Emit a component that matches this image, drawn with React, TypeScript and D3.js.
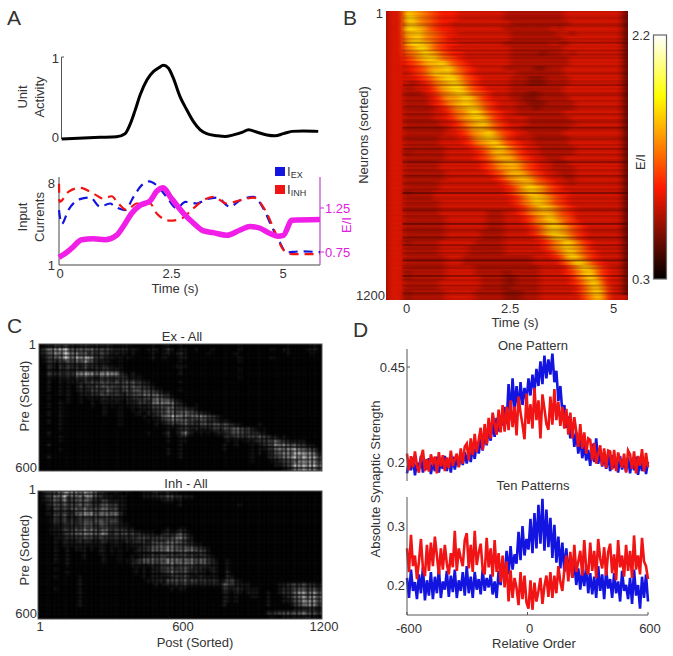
import React from 'react';
import * as d3 from 'd3';

// Panel A: unit activity, input currents and E/I over time
const activityT = [0.06, 0.55, 0.92, 1.29, 1.48, 1.59, 1.7, 1.82, 1.97, 2.12, 2.23, 2.34, 2.45, 2.56, 2.71, 2.86, 3.01, 3.16, 3.31, 3.54, 3.72, 3.91, 4.1, 4.25, 4.43, 4.66, 4.84, 5.03, 5.22, 5.48, 5.81];
const activityV = [0, 0.012, 0.02, 0.028, 0.065, 0.175, 0.34, 0.54, 0.72, 0.825, 0.865, 0.9, 0.865, 0.745, 0.52, 0.36, 0.215, 0.114, 0.065, 0.04, 0.03, 0.05, 0.08, 0.114, 0.085, 0.05, 0.04, 0.065, 0.093, 0.098, 0.093];
const exT = [0, 0.06, 0.21, 0.47, 0.7, 0.92, 1.14, 1.29, 1.48, 1.67, 1.85, 2.02, 2.19, 2.41, 2.64, 2.83, 3.09, 3.31, 3.54, 3.83, 4.06, 4.36, 4.58, 4.77, 4.96, 5.09, 5.4, 5.85];
const exV = [5.69, 4.5, 5.69, 6.62, 6.76, 5.97, 6.25, 5.91, 5.69, 6.82, 7.8, 8.14, 7.8, 6.82, 5.83, 6.39, 6.25, 6.62, 6.76, 5.97, 6.53, 6.82, 5.83, 4.27, 2.86, 2.07, 2.16, 2.1];
const inhT = [0, 0.01, 0.21, 0.47, 0.77, 0.99, 1.18, 1.33, 1.52, 1.74, 2.04, 2.19, 2.49, 2.75, 3.01, 3.24, 3.46, 3.76, 4.06, 4.36, 4.62, 4.84, 5.03, 5.22, 5.85];
const inhV = [7.94, 6.39, 7.24, 7.58, 7.1, 6.67, 6.87, 6.25, 5.69, 6.25, 6.25, 5.4, 4.78, 4.98, 5.83, 6.53, 6.82, 6.25, 6.53, 6.76, 5.69, 3.85, 2.3, 1.93, 1.93];
const eiT = [0, 0.13, 0.28, 0.51, 0.77, 1.03, 1.29, 1.44, 1.63, 1.82, 2.04, 2.19, 2.34, 2.49, 2.79, 3.01, 3.24, 3.46, 3.76, 4.06, 4.28, 4.51, 4.73, 4.9, 5.03, 5.22, 5.85];
const eiV = [0.69, 0.73, 0.79, 0.89, 0.9, 0.89, 0.94, 1.04, 1.19, 1.28, 1.33, 1.44, 1.48, 1.38, 1.19, 1.08, 0.99, 0.97, 0.94, 1.0, 1.04, 1.02, 0.96, 0.93, 0.94, 1.11, 1.12];

// Panel B: E/I per neuron (rows) and time bin (columns), one hex digit per cell
const heatRows = [
  '333a987654443333333322222222223333333333',
  '333aa87654443333333322222222223333333333',
  '3339a87654433333333332222222222333333333',
  '333aa98654433333333322222222323333333333',
  '33399a8765443333333332222222233233333333',
  '33389a8765433333333332222222223333333333',
  '3338aa9865443333333322222222322333333333',
  '33378aa865433333333332222222223333333333',
  '333678a986544333333332222212223233333333',
  '3335689a97654333333332222222222333333333',
  '333456899a865433333332222222222333333333',
  '3333456899a86543333322222112223333333333',
  '33334568a9a87543333333222222223333333333',
  '3333345689aa8654333332221112222333333333',
  '33332345789a9754333332221112222333333333',
  '33322334689aa865433332222222223333333333',
  '333222345789a976543332221122223333333333',
  '3332222346889a97543332211122222333333333',
  '3332222345789a98654333221112222233333333',
  '33322222345789a9754333222122222233333333',
  '33322222334678aa865433222222223333333333',
  '333222223345789a975433332222222333333333',
  '3332222223345789a86543332222222233333333',
  '3332222222345689986543322222222333333333',
  '33322222223345789a8654332222223333333333',
  '33322222233344689a9754333222222333333333',
  '333222222333345789a865433222222333333333',
  '3332222222333345689a86543322222233333333',
  '3331222222333334579987543322222233333333',
  '3332222222333334568998654332223333333333',
  '3332222223333333457899865433222333333333',
  '3332222223333333456889865433222233333333',
  '3332222222333333345689986543322233333333',
  '3332222222333333334578998654332233333333',
  '3332222223333333333457899765433233333333',
  '3332222223333333333345 79a986543333333333'.replace(' ', ''),
  '3331222233333333333345 78a986544333333333'.replace(' ', ''),
  '3332222233333333333334 579a98654333333333'.replace(' ', ''),
  '3332222223333333333334 578a98654333333333'.replace(' ', ''),
  '3332222223333333333333 4578a9865433333333'.replace(' ', ''),
  '3332222223333333322233 457899865433333333'.replace(' ', ''),
  '3332222222333333322233 34578a976533333333'.replace(' ', ''),
  '3332222222333333322233 345789a86543333333'.replace(' ', ''),
  '3332222222333333322233 334579a98654333333'.replace(' ', ''),
  '3332222222333333222233 334579a98654333333'.replace(' ', ''),
  '3332222222333333222233 3334579a9754333333'.replace(' ', ''),
  '3331222223333332222233 33334578a975433333'.replace(' ', ''),
  '3332222223333322222233 33334578a986433333'.replace(' ', ''),
  '3332222223333322222233 333334579a86543333'.replace(' ', ''),
  '3332222222333222222222 222333458a97543333'.replace(' ', ''),
  '3332222222333222222222 2223333468a9754333'.replace(' ', ''),
  '3332222222333332222222 22223333468a975433'.replace(' ', ''),
  '3331222222333332222212 222233334579a85433'.replace(' ', ''),
  '3331222222333333222211 222233333468a96433'.replace(' ', ''),
  '3332222223333333222211 2222333334579a7433'.replace(' ', ''),
  '3332222223333333222212 2222333333468a8533'.replace(' ', ''),
  '3331222222333332222211 1222333333468a9533'.replace(' ', ''),
  '3331222222333332222211 1222333333357995333'.replace(' ', ''),
];
// thin dark streaks laid over the rows from time 0 on
const heatStreaks = '101210231012102140103031201021013010214010231021032103102310521012310204103102501021042013102160120210341021016013210521041203102601230105021031204101';
const colorbarStops = [0, 0.375, 0.75, 1];
const colorbarColors = ['#000000', '#ff1a00', '#ffff00', '#ffffff'];

// Panel C: synaptic weight matrices, one digit per coarse cell
const exAll = [
  '01123232212221211210111000001001100100000000000000100000000000100000110',
  '13465784434344332321221110011101210110010001000000100000001001100001110',
  '12356496553423232211110100001001101210000010000001000000000000100000100',
  '01233475465574221110101000001001000110000000000000100000001000000000000',
  '01231324343643211100100000000000000100000000000000100000000000000000000',
  '00220313221322212110100000000000001110000000000000000000000000000000000',
  '00110212121211212211100000000000000100000000000000100000000000000000000',
  '00221212245565454664210100000000000100000000000000000000000000000000000',
  '00110212132322132322331111000000000000000000000000100000000000000000000',
  '00100101111223232323233322110000000100000000000000000000000000000000000',
  '00100101013132434342343433221000000000000000000000000000000000000000000',
  '00100101012123322532243353332110000100000000000000000000000000000000000',
  '00000101001112232322213233443321100000000000000000000000000000000000000',
  '00100001001011112121212232343543210000000000000000000000000000000000000',
  '00000101001001011111102123324656542100000000000000000000000000000000000',
  '00100100000001001010101112123344352210010000000000000000000000000000000',
  '00000100000000001000100101112233543332210000000000000000000000000000000',
  '00100100000000001000100011021233443444332110000000000000000000000000000',
  '00000100000000000000100000101125476543456443210000000000000000000000000',
  '00100100000000000000100000010112344453323322211100000000000000000000000',
  '00000100000000000000100000000101121232223333443321100001000000000000000',
  '00000100000000000000000000000000101222121112323345443210100000000000000',
  '00100000000000000000000000010001201262101010121233332221100000000000000',
  '00000100000000000000000000000000100110000000001212222323321101000000000',
  '00000100000000000000000000000000100110000000000101011122334532211110000',
  '00100000000000000000000000000000000100000000001001000101223545443221100',
  '00000100000000000000000000000000100100000000001000000101123464786544320',
  '00000000000000000000000000000000100100000000000000000101012345657867631',
  '00100000000000000000000000000000000100000000000000000100012234576476652',
  '00000000000000000000000000000000000000000000000000000100001123454768753',
  '00000000000000000000000000000000000000000000000000000000000112357677864',
  '00000000000000000000000000000000000000000000000000000000000001245677653',
];
const inhAll = [
  '02243568765786522111101000111211211000000000000000000000000000000000000',
  '01235372435274321110110000111122332211100000000000000000000000000000000',
  '01134252334352213211110000000001110100000000000000000000000000000000000',
  '00123232324242223322110000000000000100000000000000100000000000000000000',
  '00114232443543435433110000000000000000000000000000000000000000000000000',
  '00113232245677455565310000000000000000000000000000000000000000000000000',
  '00013131213232322322100000000000000000000000000000000000000000000000000',
  '00012121212232332232100000000000000000000000000000000000000000000000000',
  '00012122323454344332211000000000000000000000000000000000000000000000000',
  '00011122232434323322221100000000100110000000000000000000000000000000000',
  '00011123445565547423343322111002212421000000000000000000000000000000000',
  '00001112222333232222222223332233235642100000000000000000000000000000000',
  '00001011112121112111112122212222334321100000000000000000000000000000000',
  '00001011111111111011101111223354454332211000000000000000000000000000000',
  '00001001011101011010101012234455655445543210000000000000000000000000000',
  '00001001000100011010100011112122232332223210000000000000000000000000000',
  '00001001000100001000100101223234233232322221000000000000000000000000000',
  '00001001000000001000101123454344656545545432100100000000000000000000000',
  '00000001000000000000000111112123242333322221100100000000000000000000000',
  '00001000000000000000000010101123343343222112100100000000000000000000000',
  '00000001000000000000000010101112243232121101100200000000000000000000000',
  '00001000001000000000000000101111123232112111100210000000000000000000000',
  '00000000001000000000000000011121334242332222211331100000000000000000000',
  '00000000001000000000000000000101112121111111113321111000000011232232211',
  '00001000001000000000000000000000010110000000002212211110000012233443432',
  '00000000001000000000000000000000000000000000001101101110010012234664653',
  '00000000001000000000000000000000000000000000001101000110010001234575754',
  '00000000001000000000000000000000000000000000001101000000010001123467653',
  '00000000001000000000000000000000000000000000001000000000010000012346542',
  '00000000000000000000000000000000000000000000000000000000000000001112211',
  '00000000000000000000000000000000000000000000000000000000022233443454332',
  '00000000000000000000000000000000000000000000000000000000001001111112110',
];
// fine dark grid over the weight matrices, one digit per 2px stripe
const gridCols = '5172039161740283915270461938205174602837195064281739051826407193528046173925084716395027416083951746208391570426183950726148390571';
const gridRows = '4917280639517204861937250846193725084619372508461937250846193';

// Panel D: strength x1000 at relative order -600, -590, ... 600
const oneBlue = [
  170, 205, 178, 212, 165, 198, 182, 216, 172, 206, 180,
  210, 168, 200, 176, 214, 172, 204, 182, 216, 176,
  208, 172, 214, 180, 208, 188, 216, 192, 226, 196,
  232, 200, 240, 208, 252, 222, 260, 230, 276, 244,
  288, 256, 304, 266, 316, 280, 322, 296, 345, 300,
  405, 320, 420, 340, 400, 335, 410, 350, 395, 360, 420,
  375, 430, 385, 445, 400, 465, 405, 480, 420, 470,
  430, 485, 410, 440, 360, 400, 330, 350, 290, 320,
  262, 300, 240, 278, 222, 262, 210, 246, 204, 232,
  190, 248, 200, 262, 195, 225, 188, 216, 182, 222,
  176, 218, 184, 210, 172, 215, 180, 205, 175, 212,
  170, 208, 178, 214, 166, 204, 176, 210, 168, 200,
];
const oneRed = [
  222, 178, 215, 186, 228, 190, 172, 210, 232, 176, 208,
  175, 220, 198, 214, 170, 226, 188, 218, 176, 212,
  184, 230, 190, 208, 222, 186, 236, 196, 240, 248,
  204, 262, 218, 274, 226, 258, 290, 232, 300, 246,
  316, 262, 330, 300, 272, 338, 278, 350, 280, 345,
  284, 362, 292, 346, 270, 372, 330, 298, 260, 380, 300,
  352, 288, 395, 310, 362, 262, 378, 340, 300, 285,
  372, 298, 392, 310, 358, 295, 345, 288, 340, 272,
  330, 262, 318, 280, 240, 300, 235, 278, 222, 262,
  258, 204, 250, 196, 222, 244, 190, 236, 184, 230,
  228, 180, 232, 176, 225, 205, 185, 222, 172, 230,
  220, 182, 228, 170, 216, 190, 234, 175, 224, 186,
];
const tenBlue = [
  212, 178, 226, 190, 205, 176, 218, 186, 230, 174, 208,
  182, 222, 176, 214, 186, 228, 178, 206, 192, 224,
  180, 216, 188, 226, 178, 208, 190, 222, 182, 232,
  186, 214, 178, 222, 192, 210, 184, 226, 190, 212,
  196, 218, 184, 206, 178, 224, 200, 232, 214, 258,
  218, 266, 226, 252, 236, 290, 242, 300, 250, 278, 260,
  312, 254, 322, 262, 336, 270, 346, 258, 328, 264,
  314, 246, 302, 238, 282, 228, 272, 222, 262, 216,
  250, 212, 238, 200, 228, 192, 226, 198, 234, 186,
  220, 184, 214, 178, 232, 190, 218, 176, 226, 194,
  210, 178, 220, 186, 206, 172, 224, 190, 200, 176,
  212, 168, 226, 182, 200, 160, 214, 178, 218, 172,
];
const tenRed = [
  262, 222, 285, 232, 250, 210, 240, 278, 228, 215, 268,
  224, 272, 232, 282, 250, 218, 262, 226, 268, 236,
  218, 254, 230, 292, 224, 262, 245, 232, 276, 288,
  228, 268, 222, 292, 234, 255, 270, 226, 218, 280,
  230, 262, 214, 276, 222, 254, 205, 250, 196, 240,
  172, 225, 178, 212, 195, 166, 222, 176, 216, 170, 160,
  208, 158, 204, 172, 190, 212, 168, 198, 216, 180,
  222, 178, 216, 186, 232, 205, 190, 226, 250, 206,
  256, 212, 268, 222, 240, 258, 216, 276, 226, 218,
  272, 224, 258, 212, 278, 245, 228, 264, 216, 256,
  270, 220, 252, 208, 276, 230, 250, 214, 268, 224,
  258, 212, 284, 226, 250, 218, 280, 240, 232, 210,
];

const FONT = '"Liberation Sans", Arial, sans-serif';
const TEXT = '#333';
const MAGENTA = '#e020e0';
const BLUE = '#1414e0';
const RED = '#f01414';

const T = ({ x, y, s, size = 13, anchor = 'middle', rot = false, fill = TEXT }: any) => (
  <text
    x={rot ? 0 : x}
    y={rot ? 0 : y}
    dy="0.35em"
    transform={rot ? `translate(${x},${y}) rotate(-90)` : undefined}
    textAnchor={anchor}
    fontSize={size}
    fill={fill}
    fontFamily={FONT}
  >
    {s}
  </text>
);

const zip = (a: number[], b: number[]) => a.map((d, i) => [d, b[i]] as [number, number]);

const heat = d3.scaleLinear<string>().domain(colorbarStops).range(colorbarColors);
const eiToUnit = d3.scaleLinear().domain([0.3, 2.2]).range([0, 1]);

// digit matrices as blurred cells
const Matrix = ({ rows, x, y, w, h, color, blur, id }: any) => {
  const nCols = d3.max(rows, (r: string) => r.length) as number;
  const xs = d3.scaleBand<number>().domain(d3.range(nCols)).range([x, x + w]);
  const ys = d3.scaleBand<number>().domain(d3.range(rows.length)).range([y, y + h]);
  return (
    <g clipPath={`url(#clip-${id})`}>
      <clipPath id={`clip-${id}`}>
        <rect x={x} y={y} width={w} height={h} />
      </clipPath>
      <filter id={`blur-${id}`} x="-5%" y="-5%" width="110%" height="110%" colorInterpolationFilters="sRGB">
        <feGaussianBlur stdDeviation={blur} />
      </filter>
      <rect x={x} y={y} width={w} height={h} fill={color(0)} />
      <g filter={`url(#blur-${id})`}>
        {rows.map((r: string, i: number) =>
          r.split('').map((c, j) => (
            <rect
              key={`${i}-${j}`}
              x={xs(j)}
              y={ys(i)}
              width={xs.bandwidth() + 0.5}
              height={ys.bandwidth() + 0.5}
              fill={color(parseInt(c, 16))}
            />
          ))
        )}
      </g>
    </g>
  );
};

// dark stripes that break the weight matrix into specks
const Grid = ({ x, y, w, h }: any) => {
  const cx = d3.scaleBand<number>().domain(d3.range(gridCols.length)).range([x, x + w]);
  const cy = d3.scaleBand<number>().domain(d3.range(gridRows.length)).range([y, y + h]);
  return (
    <g fill="#000">
      {gridCols.split('').map((c, i) => (
        <rect key={`c${i}`} x={cx(i)} y={y} width={cx.bandwidth()} height={h} opacity={+c * 0.07} />
      ))}
      {gridRows.split('').map((c, i) => (
        <rect key={`r${i}`} x={x} y={cy(i)} width={w} height={cy.bandwidth()} opacity={+c * 0.07} />
      ))}
    </g>
  );
};

const grey = (d: number) => {
  const v = Math.min(255, Math.round(8 + Math.pow(d / 8, 1.1) * 250));
  return `rgb(${v},${v},${v})`;
};
const heatDigit = (d: number) => heat(eiToUnit(0.6 + d * 0.1));

const App = () => {
  // Panel A scales
  const tx = d3.scaleLinear().domain([0, 5.85]).range([59, 320]);
  const actY = d3.scaleLinear().domain([0, 1]).range([139, 57]);
  const curY = d3.scaleLinear().domain([1, 8]).range([265, 183]);
  const eiY = d3.scaleLinear().domain([0.75, 1.25]).range([252, 208]);
  const lineOf = (yS: any) =>
    d3.line<[number, number]>().x((d) => tx(d[0])).y((d) => yS(d[1])).curve(d3.curveMonotoneX);

  // Panel B scales
  const bx = d3.scaleLinear().domain([-0.5, 5.35]).range([386, 628]);
  const streakY = d3.scaleBand<number>().domain(d3.range(heatStreaks.length)).range([11, 300]);
  const barY = d3.scaleLinear().domain([0.3, 2.2]).range([279, 35]);

  // Panel D scales
  const dx = d3.scaleLinear().domain([-600, 600]).range([407, 648]);
  const oneY = d3.scaleLinear().domain([0.2, 0.45]).range([462, 367]);
  const tenY = d3.scaleLinear().domain([0.2, 0.3]).range([585, 526]);
  const noisy = (vals: number[], yS: any) =>
    d3.line<number>()
      .x((_, i) => dx(-600 + (i * 1200) / (vals.length - 1)))
      .y((d) => yS(d / 1000))(vals) as string;

  return (
    <svg width={673} height={656} style={{ position: 'absolute', left: 0, top: 0, background: '#fff' }}>
      {/* panel letters */}
      <T x={7} y={18} s="A" size={21} anchor="start" />
      <T x={343} y={18} s="B" size={21} anchor="start" />
      <T x={7} y={326} s="C" size={21} anchor="start" />
      <T x={353} y={330} s="D" size={21} anchor="start" />

      {/* A top */}
      <path d={`M64,57H61.5V139`} fill="none" stroke="#555" strokeWidth={1} />
      <T x={59} y={58} s="1" anchor="end" />
      <T x={59} y={137} s="0" anchor="end" />
      <T x={22} y={97} s="Unit" rot />
      <T x={39} y={97} s="Activity" rot />
      <path d={lineOf(actY)(zip(activityT, activityV)) as string} fill="none" stroke="#000" strokeWidth={3} strokeLinejoin="round" />

      {/* A bottom */}
      <path d={`M${tx(0)},177V${curY(1)}H${tx(5.85)}`} fill="none" stroke="#444" strokeWidth={1} />
      <path d={`M${tx(5.85)},177V${curY(1)}`} fill="none" stroke="#b84cc0" strokeWidth={1.2} />
      {[0.75, 1.25].map((d) => (
        <line key={d} x1={320} x2={324} y1={eiY(d)} y2={eiY(d)} stroke={MAGENTA} />
      ))}
      <path d={lineOf(curY)(zip(exT, exV)) as string} fill="none" stroke={BLUE} strokeWidth={2.2} strokeDasharray="9 6" />
      <path d={lineOf(curY)(zip(inhT, inhV)) as string} fill="none" stroke={RED} strokeWidth={2.2} strokeDasharray="9 6" />
      <path d={lineOf(eiY)(zip(eiT, eiV)) as string} fill="none" stroke="#f01ee6" strokeWidth={5.5} strokeLinejoin="round" />
      <T x={55} y={183} s="8" anchor="end" />
      <T x={55} y={265} s="1" anchor="end" />
      {[0, 2.5, 5].map((d) => (
        <T key={d} x={tx(d) + 1} y={273} s={String(d)} />
      ))}
      <T x={175} y={288} s="Time (s)" />
      <T x={22} y={217} s="Input" rot />
      <T x={39} y={217} s="Currents" rot />
      <T x={325} y={208} s="1.25" anchor="start" fill={MAGENTA} />
      <T x={325} y={252} s="0.75" anchor="start" fill={MAGENTA} />
      <T x={346} y={225} s="E/I" rot fill={MAGENTA} />
      <rect x={275} y={167} width={10} height={9} fill={BLUE} />
      <rect x={275} y={185} width={10} height={9} fill={RED} />
      <text x={287} y={176} fontSize={13} fill={TEXT} fontFamily={FONT}>
        I<tspan fontSize={9} dy={2}>EX</tspan>
      </text>
      <text x={287} y={194} fontSize={13} fill={TEXT} fontFamily={FONT}>
        I<tspan fontSize={9} dy={2}>INH</tspan>
      </text>

      {/* B heatmap */}
      <Matrix rows={heatRows} x={bx(-0.5)} y={11} w={bx(5.35) - bx(-0.5)} h={289} color={heatDigit} blur="3 0.7" id="b" />
      {heatStreaks.split('').map((c, i) => (
        <rect
          key={i}
          x={bx(-0.1)}
          y={streakY(i)}
          width={bx(5.35) - bx(-0.1)}
          height={streakY.bandwidth()}
          fill="#300000"
          opacity={+c * 0.09}
        />
      ))}
      <T x={383} y={13} s="1" anchor="end" />
      <T x={385} y={295} s="1200" anchor="end" />
      <T x={363} y={135} s="Neurons (sorted)" rot />
      {[0, 2.5, 5].map((d) => (
        <T key={d} x={bx(d)} y={308} s={String(d)} />
      ))}
      <T x={515} y={322} s="Time (s)" />
      <T x={640} y={162} s="E/I" rot />

      {/* colorbar */}
      <defs>
        <linearGradient id="cbar" x1="0" x2="0" y1="1" y2="0">
          {colorbarStops.map((s, i) => (
            <stop key={s} offset={s} stopColor={colorbarColors[i]} />
          ))}
        </linearGradient>
      </defs>
      <rect x={653.5} y={barY(2.2)} width={13} height={barY(0.3) - barY(2.2)} fill="url(#cbar)" stroke="#666" strokeWidth={1.2} />
      <T x={650} y={barY(2.2)} s="2.2" anchor="end" />
      <T x={650} y={barY(0.3)} s="0.3" anchor="end" />

      {/* C */}
      <T x={182} y={336} s="Ex - All" />
      <Matrix rows={exAll} x={39} y={344} w={283} h={127} color={grey} blur="0.9 0.8" id="ce" />
      <Grid x={39} y={344} w={283} h={127} />
      <rect x={39} y={344} width={283} height={127} fill="none" stroke="#555" />
      <T x={186} y={483} s="Inh - All" />
      <Matrix rows={inhAll} x={38} y={491} w={284} h={128} color={grey} blur="0.9 0.8" id="ci" />
      <Grid x={38} y={491} w={284} h={128} />
      <rect x={38} y={491} width={284} height={128} fill="none" stroke="#555" />
      <T x={36} y={344} s="1" anchor="end" />
      <T x={37} y={467} s="600" anchor="end" />
      <T x={36} y={489} s="1" anchor="end" />
      <T x={37} y={613} s="600" anchor="end" />
      <T x={24} y={396} s="Pre (Sorted)" rot />
      <T x={24} y={550} s="Pre (Sorted)" rot />
      <T x={40} y={626} s="1" />
      <T x={183} y={626} s="600" />
      <T x={324} y={626} s="1200" />
      <T x={195} y={642} s="Post (Sorted)" />

      {/* D top */}
      <T x={533} y={345} s="One Pattern" />
      <path d={noisy(oneBlue, oneY)} fill="none" stroke={BLUE} strokeWidth={2.6} />
      <path d={noisy(oneRed, oneY)} fill="none" stroke={RED} strokeWidth={2.6} />
      <line x1={407} x2={407} y1={349} y2={481} stroke="#555" />
      <line x1={407} x2={410} y1={oneY(0.45)} y2={oneY(0.45)} stroke="#555" />
      <T x={405} y={oneY(0.45)} s="0.45" anchor="end" />
      <T x={405} y={oneY(0.2)} s="0.2" anchor="end" />

      {/* D bottom */}
      <T x={533} y={485} s="Ten Patterns" />
      <path d={noisy(tenBlue, tenY)} fill="none" stroke={BLUE} strokeWidth={2.6} />
      <path d={noisy(tenRed, tenY)} fill="none" stroke={RED} strokeWidth={2.6} />
      <path d="M407,497V615H648" fill="none" stroke="#555" />
      {[-600, 0, 600].map((d) => (
        <g key={d}>
          <line x1={dx(d)} x2={dx(d)} y1={615} y2={612} stroke="#555" />
          <T x={dx(d) + 2} y={628} s={String(d)} />
        </g>
      ))}
      <T x={405} y={tenY(0.3)} s="0.3" anchor="end" />
      <T x={405} y={tenY(0.2)} s="0.2" anchor="end" />
      <T x={534} y={643} s="Relative Order" />
      <T x={375} y={479} s="Absolute Synaptic Strength" rot />
    </svg>
  );
};

export default App;
